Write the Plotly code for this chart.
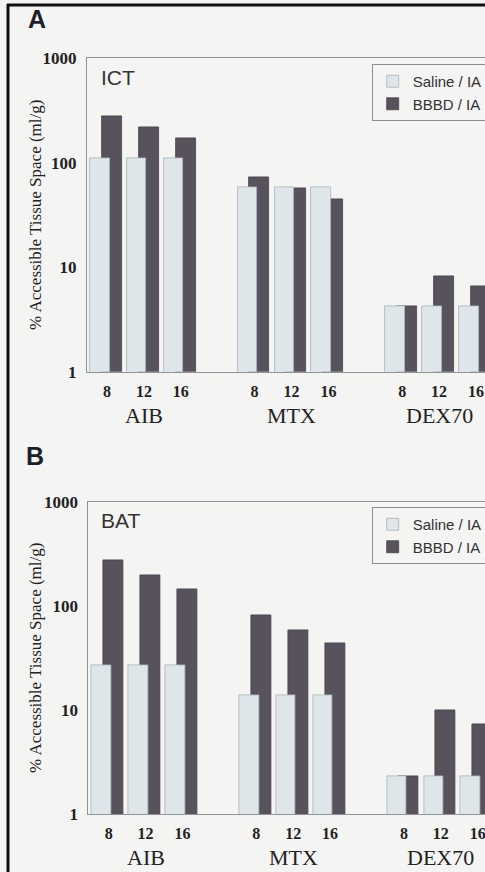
import plotly.graph_objects as go

# ---- data ----
groups = ["AIB", "MTX", "DEX70"]
doses = ["8", "12", "16"]
series_names = ["Saline / IA", "BBBD / IA"]
panels = ["ICT", "BAT"]

saline_ict = [110, 110, 110, 58, 58, 58, 4.2, 4.2, 4.2]
bbbd_ict = [279, 217, 171, 72, 57, 45, 4.2, 8.2, 6.5]
saline_bat = [27, 27, 27, 14, 14, 14, 2.3, 2.3, 2.3]
bbbd_bat = [274, 198, 145, 82, 59, 44, 2.3, 10, 7.3]

y_tick_vals = [1, 10, 100, 1000]
y_tick_text = ["1", "10", "100", "1000"]
y_title = "% Accessible Tissue Space (ml/g)"

# ---- layout helpers ----
W, H = 485, 872
def px(x):
    return x / W
def py(y):
    return 1 - y / H

BG = "#f4f4f2"
SAL = "#dfe6ea"
SAL_LINE = "#a7b3ba"
DARK = "#57525c"
DARK_LINE = "#46424b"
FRAME = "#8e9396"
TXT = "#222222"

xpos = [g * 4 + d for g in range(len(groups)) for d in range(len(doses))]
xticktext = [doses[d] for g in range(len(groups)) for d in range(len(doses))]
group_centers = [g * 4 + 1 for g in range(len(groups))]

fig = go.Figure()

panel_data = [(saline_ict, bbbd_ict), (saline_bat, bbbd_bat)]
for i, (sal, dark) in enumerate(panel_data):
    xa = "x" if i == 0 else "x2"
    ya = "y" if i == 0 else "y2"
    lg = "legend" if i == 0 else "legend2"
    fig.add_trace(go.Bar(
        x=xpos, y=dark, name=series_names[1], xaxis=xa, yaxis=ya,
        offset=-0.14, width=0.54,
        marker=dict(color=DARK, line=dict(color=DARK_LINE, width=0.8)),
        legend=lg, legendrank=2, hoverinfo="skip",
    ))
    fig.add_trace(go.Bar(
        x=xpos, y=sal, name=series_names[0], xaxis=xa, yaxis=ya,
        offset=-0.46, width=0.53,
        marker=dict(color=SAL, line=dict(color=SAL_LINE, width=0.8)),
        legend=lg, legendrank=1, hoverinfo="skip",
    ))

tickfont = dict(family="Liberation Serif", size=16, color=TXT, weight="bold")
common_x = dict(
    tickmode="array", tickvals=xpos, ticktext=xticktext, tickfont=tickfont,
    showline=True, linecolor=FRAME, linewidth=1, mirror=True,
    ticks="outside", ticklen=5, tickcolor="rgba(0,0,0,0)",
    showgrid=False, zeroline=False, fixedrange=True, automargin=False,
    ticklabeloverflow="allow",
)
common_y = dict(
    type="log", range=[0, 3], tickmode="array", tickvals=y_tick_vals,
    ticktext=y_tick_text, tickfont=dict(family="Liberation Serif", size=17, color=TXT, weight="bold"),
    showline=True, linecolor=FRAME, linewidth=1, mirror=False,
    ticks="outside", ticklen=6, tickcolor="rgba(0,0,0,0)",
    showgrid=False, zeroline=False, fixedrange=True, automargin=False,
)

top = dict(l=87, t=58.3, b=371.7, tick0=107.0)
bot = dict(l=88.3, t=502.3, b=814.0, tick0=108.7)
unit = 36.9

def xrange_for(p):
    return [(p["l"] - p["tick0"]) / unit, (W - p["tick0"]) / unit]

legend_common = dict(
    xanchor="left", yanchor="top",
    bgcolor=BG, bordercolor="#8a8f92", borderwidth=1,
    font=dict(family="Liberation Sans", size=15, color="#333333"),
    tracegroupgap=0, itemclick=False, itemdoubleclick=False,
)

fig.update_layout(
    width=W, height=H,
    margin=dict(l=0, r=0, t=0, b=0, pad=0, autoexpand=False),
    paper_bgcolor=BG, plot_bgcolor=BG,
    barmode="overlay",
    bargap=0,
    xaxis=dict(domain=[px(top["l"]), 1], range=xrange_for(top), anchor="y", **common_x),
    yaxis=dict(domain=[py(top["b"]), py(top["t"])], anchor="x", **common_y),
    xaxis2=dict(domain=[px(bot["l"]), 1], range=xrange_for(bot), anchor="y2", **common_x),
    yaxis2=dict(domain=[py(bot["b"]), py(bot["t"])], anchor="x2", **common_y),
    legend=dict(x=px(371.7), y=py(64), **legend_common),
    legend2=dict(x=px(371.7), y=py(507), **legend_common),
    showlegend=True,
)

annotations = []
# panel letters
for letter, (lx, ly) in zip(["A", "B"], [(37, 19), (35, 456)]):
    annotations.append(dict(
        text=letter, x=px(lx), y=py(ly), xref="paper", yref="paper",
        xanchor="center", yanchor="middle", showarrow=False,
        font=dict(family="Liberation Sans", size=25, color="#1e1e2a", weight="bold"),
    ))
# panel titles
for name, ty in zip(panels, [77, 520]):
    annotations.append(dict(
        text=name, x=px(99), y=py(ty), xref="paper", yref="paper",
        xanchor="left", yanchor="middle", showarrow=False,
        font=dict(family="Liberation Sans", size=21, color="#333333"),
    ))
# y titles
for cy in [215, 658]:
    annotations.append(dict(
        text=y_title, x=px(35), y=py(cy), xref="paper", yref="paper",
        xanchor="center", yanchor="middle", showarrow=False, textangle=-90,
        font=dict(family="Liberation Serif", size=17, color=TXT),
    ))
# group labels
for xa, gy in [("x", 415), ("x2", 857)]:
    for gc, gname in zip(group_centers, groups):
        annotations.append(dict(
            text=gname, x=gc, y=py(gy), xref=xa, yref="paper",
            xanchor="center", yanchor="middle", showarrow=False,
            font=dict(family="Liberation Serif", size=22, color=TXT),
        ))
fig.update_layout(annotations=annotations)

# outer black frame (top and left edges)
fig.add_shape(type="line", xref="paper", yref="paper",
              x0=px(7), x1=1, y0=py(5), y1=py(5), line=dict(color="#111111", width=3))
fig.add_shape(type="line", xref="paper", yref="paper",
              x0=px(8), x1=px(8), y0=py(4), y1=0, line=dict(color="#111111", width=3))

fig.write_html(
    "out.html",
    config={"displayModeBar": False},
    post_script="document.body.style.margin='0';document.body.style.overflow='hidden';document.body.style.background='" + BG + "';",
)
